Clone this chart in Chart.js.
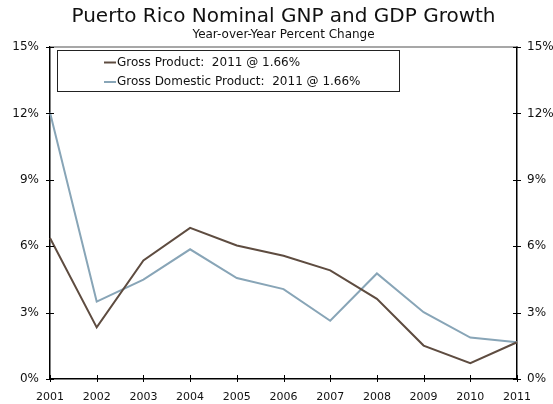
<!DOCTYPE html>
<html>
<head>
<meta charset="utf-8">
<script src="https://cdn.jsdelivr.net/npm/chart.js@4/dist/chart.umd.min.js"></script>
<style>
  html, body { margin: 0; padding: 0; background: #fff; }
  canvas { display: block; }
</style>
</head>
<body>
<canvas id="growthChart" width="553" height="404"></canvas>
<script>
const years = ['2001', '2002', '2003', '2004', '2005', '2006', '2007', '2008', '2009', '2010', '2011'];
const gnpGrowth = [6.37, 2.33, 5.36, 6.83, 6.03, 5.57, 4.91, 3.62, 1.51, 0.72, 1.66];
const gdpGrowth = [12.04, 3.50, 4.49, 5.86, 4.56, 4.06, 2.63, 4.77, 3.02, 1.87, 1.66];
const yTicks = [0, 3, 6, 9, 12, 15];

const FONT = 'DejaVu Sans';
const last = years.length - 1;
const legendLabel = (name, values) => `${name}:  ${years[last]} @ ${values[last].toFixed(2)}%`;

// inner/outer tick marks, top frame line, titles and boxed legend
const decorations = {
  id: 'decorations',
  afterDraw(chart) {
    const { ctx, chartArea: area, scales } = chart;
    ctx.save();

    ctx.strokeStyle = '#8a8a8a';
    ctx.lineWidth = 1.5;
    ctx.beginPath();
    ctx.moveTo(area.left, area.top);
    ctx.lineTo(area.right, area.top);
    ctx.stroke();

    ctx.strokeStyle = '#000';
    ctx.lineWidth = 1;
    ctx.beginPath();
    yTicks.forEach((v) => {
      const y = Math.round(scales.y.getPixelForValue(v)) + 0.5;
      ctx.moveTo(area.left - 4, y);
      ctx.lineTo(area.left + 4, y);
      ctx.moveTo(area.right - 4, y);
      ctx.lineTo(area.right + 4, y);
    });
    years.forEach((yr, i) => {
      const x = Math.round(scales.x.getPixelForValue(i)) + 0.5;
      ctx.moveTo(x, area.bottom - 4);
      ctx.lineTo(x, area.bottom + 3);
    });
    ctx.stroke();

    const cx = (area.left + area.right) / 2;
    ctx.fillStyle = '#111';
    ctx.textAlign = 'center';
    ctx.textBaseline = 'alphabetic';
    ctx.font = `20px "${FONT}"`;
    ctx.fillText('Puerto Rico Nominal GNP and GDP Growth', cx, 22);
    ctx.font = `12px "${FONT}"`;
    ctx.fillText('Year-over-Year Percent Change', cx, 38);

    // legend box
    ctx.strokeStyle = '#222';
    ctx.lineWidth = 1;
    ctx.strokeRect(57.5, 50.5, 342, 41);
    ctx.font = `12px "${FONT}"`;
    ctx.textAlign = 'left';
    ctx.textBaseline = 'middle';
    chart.data.datasets.forEach((ds, i) => {
      const y = 62.5 + i * 19.5;
      ctx.strokeStyle = ds.borderColor;
      ctx.lineWidth = 2;
      ctx.beginPath();
      ctx.moveTo(104, y);
      ctx.lineTo(116, y);
      ctx.stroke();
      ctx.fillStyle = '#111';
      ctx.fillText(ds.label, 117, y);
    });
    ctx.restore();
  },
};

const tickFont = { family: FONT, size: 12 };

new Chart(document.getElementById('growthChart'), {
  type: 'line',
  data: {
    labels: years,
    datasets: [
      {
        label: legendLabel('Gross Product', gnpGrowth),
        data: gnpGrowth,
        borderColor: '#5e4c40',
        borderWidth: 2,
        pointRadius: 0,
        tension: 0,
      },
      {
        label: legendLabel('Gross Domestic Product', gdpGrowth),
        data: gdpGrowth,
        borderColor: '#88a5b7',
        borderWidth: 2,
        pointRadius: 0,
        tension: 0,
      },
    ],
  },
  options: {
    responsive: false,
    animation: false,
    layout: { padding: { top: 47, left: 0, right: 0, bottom: 0 } },
    plugins: {
      legend: { display: false },
      title: { display: false },
      tooltip: { enabled: false },
    },
    scales: {
      x: {
        offset: false,
        grid: { display: false, drawTicks: false },
        border: { color: '#000', width: 1.5 },
        ticks: { color: '#111', font: { family: FONT, size: 11 }, padding: 12, maxRotation: 0, autoSkip: false },
        afterFit(scale) { scale.height = 25; },
      },
      y: {
        position: 'left',
        min: 0,
        max: 15,
        afterBuildTicks(scale) { scale.ticks = yTicks.map((v) => ({ value: v })); },
        grid: { display: false, drawTicks: false },
        border: { color: '#000', width: 1.5 },
        ticks: { color: '#111', font: tickFont, padding: 11, callback: (v) => `${v}%` },
        afterFit(scale) { scale.width = 50; },
      },
      y2: {
        position: 'right',
        min: 0,
        max: 15,
        afterBuildTicks(scale) { scale.ticks = yTicks.map((v) => ({ value: v })); },
        grid: { display: false, drawTicks: false },
        border: { color: '#000', width: 1.5 },
        ticks: { color: '#111', font: tickFont, padding: 10, callback: (v) => `${v}%` },
        afterFit(scale) { scale.width = 36; },
      },
    },
  },
  plugins: [decorations],
});
</script>
</body>
</html>
